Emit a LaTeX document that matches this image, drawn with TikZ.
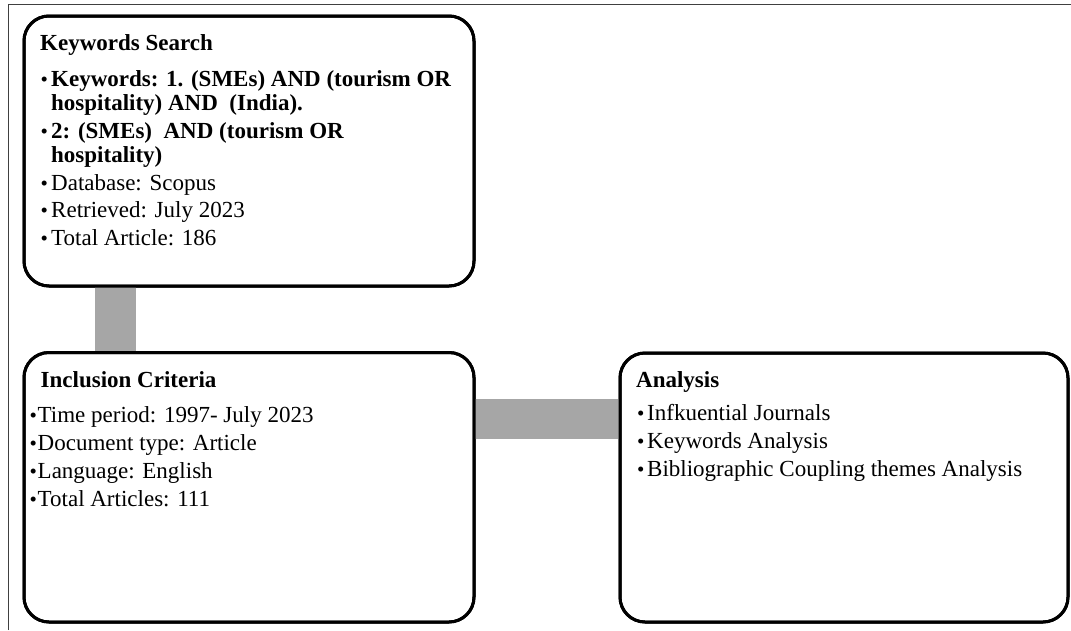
\documentclass[tikz,border=0pt]{standalone}
\usepackage{fontspec}
\setmainfont{Liberation Serif}
\begin{document}
\begin{tikzpicture}[x=1pt,y=-1pt]
\tikzset{
  box/.style={draw=black, line width=3pt, rounded corners=25pt, fill=white,
    rectangle, inner sep=0pt, outer sep=0pt, anchor=north west},
  conn/.style={draw=black!35, line cap=butt},
  frameline/.style={draw=black!75, line width=1.2pt},
  ttl/.style={anchor=base west, inner sep=0pt, font=\fontsize{23}{24}\selectfont\bfseries},
  itm/.style={anchor=base west, inner sep=0pt, font=\fontsize{23}{24}\selectfont},
  bitm/.style={anchor=base west, inner sep=0pt, font=\fontsize{23}{24}\selectfont\bfseries},
  bul/.style={anchor=base west, inner sep=0pt, font=\fontsize{21}{24}\selectfont},
}
\useasboundingbox (0,0) rectangle (1071,630);
% frame
\coordinate (fa) at (8.5,630);
\coordinate (fb) at (8.5,4.5);
\coordinate (fc) at (1071,4.5);
\draw[frameline] (fa) -- (fb) -- (fc);
% connector guides
\coordinate (vc) at (115.5,0);
\coordinate (hc) at (0,419);
% boxes (positions)
\path (24,16) coordinate (ksp);
\path (24,352.5) coordinate (icp);
\path (620,353) coordinate (anp);
\node[box, minimum width=450pt, minimum height=270pt] (ks) at (ksp) {};
\node[box, minimum width=450pt, minimum height=269.5pt] (ic) at (icp) {};
\node[box, minimum width=448pt, minimum height=269pt] (an) at (anp) {};
% connectors
\draw[conn, line width=41pt] (ks.south -| vc) -- (ic.north -| vc);
\draw[conn, line width=40pt] (ic.east |- hc) -- (an.west |- hc);
% redraw borders on top of connectors
\node[box, fill=none, minimum width=450pt, minimum height=270pt] (ksb) at (ksp) {};
\node[box, fill=none, minimum width=450pt, minimum height=269.5pt] (icb) at (icp) {};
\node[box, fill=none, minimum width=448pt, minimum height=269pt] (anb) at (anp) {};
% Keywords Search text
\node[ttl] (ks0) at (40,50.7) {Keywords Search};
\node[bul] (ks1b) at (40.5,86) {•};
\node[bitm] (ks1) at (51,86) {Keywords: 1. (SMEs) AND (tourism OR};
\node[bitm] (ks1c) at (51,110) {hospitality) AND\ \ (India).};
\node[bul] (ks2b) at (40.5,138) {•};
\node[bitm] (ks2) at (51,138) {2: (SMEs)\ \ AND (tourism OR};
\node[bitm] (ks2c) at (51,162) {hospitality)};
\node[bul] (ks3b) at (40.5,190) {•};
\node[itm] (ks3) at (51,190) {Database: Scopus};
\node[bul] (ks4b) at (40.5,217.5) {•};
\node[itm] (ks4) at (51,217.5) {Retrieved: July 2023};
\node[bul] (ks5b) at (40.5,245.5) {•};
\node[itm] (ks5) at (51,245.5) {Total Article: 186};
% Inclusion Criteria text
\node[ttl] (ic0) at (40.5,387) {Inclusion Criteria};
\node[bul] (ic1b) at (29.5,422) {•};
\node[itm] (ic1) at (37.5,422) {Time period: 1997- July 2023};
\node[bul] (ic2b) at (29.5,450.5) {•};
\node[itm] (ic2) at (37.5,450.5) {Document type: Article};
\node[bul] (ic3b) at (29.5,478.5) {•};
\node[itm] (ic3) at (37.5,478.5) {Language: English};
\node[bul] (ic4b) at (29.5,506.5) {•};
\node[itm] (ic4) at (37.5,506.5) {Total Articles: 111};
% Analysis text
\node[ttl] (an0) at (636,387) {Analysis};
\node[bul] (an1b) at (637,420) {•};
\node[itm] (an1) at (647,420) {Infkuential Journals};
\node[bul] (an2b) at (637,448) {•};
\node[itm] (an2) at (647,448) {Keywords Analysis};
\node[bul] (an3b) at (637,476) {•};
\node[itm] (an3) at (647,476) {Bibliographic Coupling themes Analysis};
\end{tikzpicture}
\end{document}
